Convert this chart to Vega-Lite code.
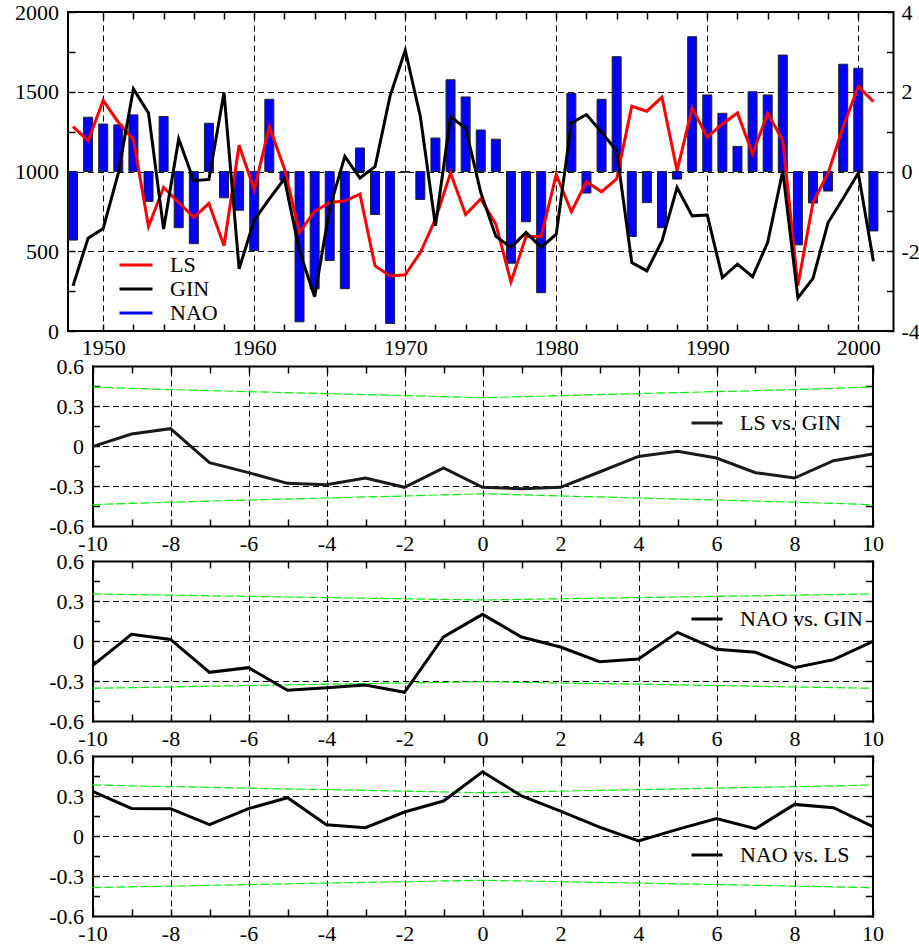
{
  "$schema": "https://vega.github.io/schema/vega-lite/v6.json",
  "background": "white",
  "padding": {"left": 13, "top": 0, "right": 5, "bottom": 2},
  "spacing": 35,
  "bounds": "flush",
  "config": {
    "font": "Liberation Serif",
    "axis": {"ticks": true, "tickOpacity": 1, "labelFont": "Liberation Serif", "labelFontSize": 22, "labelColor": "#000000", "tickColor": "#000000", "tickWidth": 1.5, "domainColor": "#000000", "domainWidth": 2, "domainCap": "square", "gridColor": "#000000", "gridDash": [6, 4], "gridWidth": 1, "labelFlush": false, "labelOverlap": false, "title": null},
    "legend": {"labelFont": "Liberation Serif", "labelFontSize": 22, "labelColor": "#000000", "padding": 0, "symbolType": "stroke", "symbolStrokeWidth": 3, "labelOffset": 16, "title": null}
  },
  "resolve": {"scale": {"color": "independent"}, "legend": {"color": "independent"}},
  "datasets": {
    "series": [
      {"year": 1948, "LS": 1281, "GIN": 283, "NAO": -1.72},
      {"year": 1949, "LS": 1193, "GIN": 582, "NAO": 1.36},
      {"year": 1950, "LS": 1445, "GIN": 643, "NAO": 1.19},
      {"year": 1951, "LS": 1309, "GIN": 990, "NAO": 1.17},
      {"year": 1952, "LS": 1200, "GIN": 1518, "NAO": 1.42},
      {"year": 1953, "LS": 655, "GIN": 1367, "NAO": -0.75},
      {"year": 1954, "LS": 900, "GIN": 639, "NAO": 1.38},
      {"year": 1955, "LS": 806, "GIN": 1204, "NAO": -1.41},
      {"year": 1956, "LS": 712, "GIN": 942, "NAO": -1.81},
      {"year": 1957, "LS": 800, "GIN": 950, "NAO": 1.21},
      {"year": 1958, "LS": 535, "GIN": 1495, "NAO": -0.66},
      {"year": 1959, "LS": 1165, "GIN": 390, "NAO": -0.97},
      {"year": 1960, "LS": 885, "GIN": 695, "NAO": -1.98},
      {"year": 1961, "LS": 1280, "GIN": 828, "NAO": 1.81},
      {"year": 1962, "LS": 1017, "GIN": 954, "NAO": -0.22},
      {"year": 1963, "LS": 619, "GIN": 500, "NAO": -3.77},
      {"year": 1964, "LS": 750, "GIN": 215, "NAO": -2.94},
      {"year": 1965, "LS": 806, "GIN": 770, "NAO": -2.23},
      {"year": 1966, "LS": 815, "GIN": 1095, "NAO": -2.94},
      {"year": 1967, "LS": 858, "GIN": 959, "NAO": 0.59},
      {"year": 1968, "LS": 408, "GIN": 1030, "NAO": -1.08},
      {"year": 1969, "LS": 345, "GIN": 1475, "NAO": -3.81},
      {"year": 1970, "LS": 352, "GIN": 1760, "NAO": -0.02},
      {"year": 1971, "LS": 492, "GIN": 1345, "NAO": -0.70},
      {"year": 1972, "LS": 701, "GIN": 660, "NAO": 0.84},
      {"year": 1973, "LS": 990, "GIN": 1345, "NAO": 2.30},
      {"year": 1974, "LS": 730, "GIN": 1270, "NAO": 1.87},
      {"year": 1975, "LS": 828, "GIN": 869, "NAO": 1.04},
      {"year": 1976, "LS": 670, "GIN": 593, "NAO": 0.81},
      {"year": 1977, "LS": 308, "GIN": 524, "NAO": -2.30},
      {"year": 1978, "LS": 593, "GIN": 618, "NAO": -1.26},
      {"year": 1979, "LS": 593, "GIN": 524, "NAO": -3.04},
      {"year": 1980, "LS": 980, "GIN": 607, "NAO": 0.0},
      {"year": 1981, "LS": 748, "GIN": 1305, "NAO": 1.96},
      {"year": 1982, "LS": 936, "GIN": 1357, "NAO": -0.54},
      {"year": 1983, "LS": 873, "GIN": 1246, "NAO": 1.81},
      {"year": 1984, "LS": 953, "GIN": 1130, "NAO": 2.88},
      {"year": 1985, "LS": 1409, "GIN": 429, "NAO": -1.63},
      {"year": 1986, "LS": 1378, "GIN": 377, "NAO": -0.78},
      {"year": 1987, "LS": 1466, "GIN": 565, "NAO": -1.41},
      {"year": 1988, "LS": 1005, "GIN": 900, "NAO": -0.19},
      {"year": 1989, "LS": 1397, "GIN": 722, "NAO": 3.38},
      {"year": 1990, "LS": 1215, "GIN": 727, "NAO": 1.92},
      {"year": 1991, "LS": 1298, "GIN": 335, "NAO": 1.46},
      {"year": 1992, "LS": 1367, "GIN": 419, "NAO": 0.63},
      {"year": 1993, "LS": 1110, "GIN": 340, "NAO": 2.00},
      {"year": 1994, "LS": 1365, "GIN": 556, "NAO": 1.92},
      {"year": 1995, "LS": 1195, "GIN": 1003, "NAO": 2.92},
      {"year": 1996, "LS": 285, "GIN": 207, "NAO": -1.84},
      {"year": 1997, "LS": 805, "GIN": 330, "NAO": -0.79},
      {"year": 1998, "LS": 990, "GIN": 680, "NAO": -0.49},
      {"year": 1999, "LS": 1280, "GIN": 832, "NAO": 2.69},
      {"year": 2000, "LS": 1533, "GIN": 990, "NAO": 2.59},
      {"year": 2001, "LS": 1438, "GIN": 438, "NAO": -1.49}
    ],
    "lsgin": [
      {"lag": -10, "r": -0.005, "up": 0.443, "lo": -0.44},
      {"lag": -9, "r": 0.09, "up": 0.432, "lo": -0.43},
      {"lag": -8, "r": 0.13, "up": 0.423, "lo": -0.422},
      {"lag": -7, "r": -0.125, "up": 0.415, "lo": -0.413},
      {"lag": -6, "r": -0.2, "up": 0.408, "lo": -0.405},
      {"lag": -5, "r": -0.28, "up": 0.40, "lo": -0.398},
      {"lag": -4, "r": -0.29, "up": 0.393, "lo": -0.39},
      {"lag": -3, "r": -0.24, "up": 0.386, "lo": -0.382},
      {"lag": -2, "r": -0.31, "up": 0.378, "lo": -0.375},
      {"lag": -1, "r": -0.165, "up": 0.37, "lo": -0.366},
      {"lag": 0, "r": -0.31, "up": 0.362, "lo": -0.358},
      {"lag": 1, "r": -0.32, "up": 0.37, "lo": -0.366},
      {"lag": 2, "r": -0.31, "up": 0.378, "lo": -0.375},
      {"lag": 3, "r": -0.195, "up": 0.386, "lo": -0.382},
      {"lag": 4, "r": -0.078, "up": 0.393, "lo": -0.39},
      {"lag": 5, "r": -0.04, "up": 0.40, "lo": -0.398},
      {"lag": 6, "r": -0.09, "up": 0.408, "lo": -0.405},
      {"lag": 7, "r": -0.2, "up": 0.415, "lo": -0.413},
      {"lag": 8, "r": -0.24, "up": 0.423, "lo": -0.422},
      {"lag": 9, "r": -0.11, "up": 0.432, "lo": -0.43},
      {"lag": 10, "r": -0.06, "up": 0.443, "lo": -0.44}
    ],
    "naogin": [
      {"lag": -10, "r": -0.185, "up": 0.353, "lo": -0.354},
      {"lag": -9, "r": 0.05, "up": 0.348, "lo": -0.35},
      {"lag": -8, "r": 0.012, "up": 0.344, "lo": -0.345},
      {"lag": -7, "r": -0.235, "up": 0.339, "lo": -0.339},
      {"lag": -6, "r": -0.2, "up": 0.335, "lo": -0.334},
      {"lag": -5, "r": -0.37, "up": 0.33, "lo": -0.329},
      {"lag": -4, "r": -0.35, "up": 0.326, "lo": -0.324},
      {"lag": -3, "r": -0.33, "up": 0.321, "lo": -0.319},
      {"lag": -2, "r": -0.385, "up": 0.317, "lo": -0.315},
      {"lag": -1, "r": 0.03, "up": 0.312, "lo": -0.31},
      {"lag": 0, "r": 0.2, "up": 0.308, "lo": -0.305},
      {"lag": 1, "r": 0.03, "up": 0.312, "lo": -0.31},
      {"lag": 2, "r": -0.045, "up": 0.317, "lo": -0.315},
      {"lag": 3, "r": -0.155, "up": 0.321, "lo": -0.319},
      {"lag": 4, "r": -0.135, "up": 0.326, "lo": -0.324},
      {"lag": 5, "r": 0.065, "up": 0.33, "lo": -0.329},
      {"lag": 6, "r": -0.062, "up": 0.335, "lo": -0.334},
      {"lag": 7, "r": -0.085, "up": 0.339, "lo": -0.339},
      {"lag": 8, "r": -0.2, "up": 0.344, "lo": -0.345},
      {"lag": 9, "r": -0.14, "up": 0.348, "lo": -0.35},
      {"lag": 10, "r": -0.005, "up": 0.353, "lo": -0.354}
    ],
    "naols": [
      {"lag": -10, "r": 0.335, "up": 0.383, "lo": -0.387},
      {"lag": -9, "r": 0.207, "up": 0.376, "lo": -0.381},
      {"lag": -8, "r": 0.205, "up": 0.37, "lo": -0.376},
      {"lag": -7, "r": 0.085, "up": 0.365, "lo": -0.37},
      {"lag": -6, "r": 0.205, "up": 0.359, "lo": -0.364},
      {"lag": -5, "r": 0.287, "up": 0.353, "lo": -0.359},
      {"lag": -4, "r": 0.085, "up": 0.348, "lo": -0.353},
      {"lag": -3, "r": 0.062, "up": 0.342, "lo": -0.348},
      {"lag": -2, "r": 0.18, "up": 0.336, "lo": -0.343},
      {"lag": -1, "r": 0.262, "up": 0.331, "lo": -0.337},
      {"lag": 0, "r": 0.482, "up": 0.325, "lo": -0.332},
      {"lag": 1, "r": 0.30, "up": 0.331, "lo": -0.337},
      {"lag": 2, "r": 0.187, "up": 0.336, "lo": -0.343},
      {"lag": 3, "r": 0.067, "up": 0.342, "lo": -0.348},
      {"lag": 4, "r": -0.037, "up": 0.348, "lo": -0.353},
      {"lag": 5, "r": 0.05, "up": 0.353, "lo": -0.359},
      {"lag": 6, "r": 0.13, "up": 0.359, "lo": -0.364},
      {"lag": 7, "r": 0.055, "up": 0.365, "lo": -0.37},
      {"lag": 8, "r": 0.237, "up": 0.37, "lo": -0.376},
      {"lag": 9, "r": 0.212, "up": 0.376, "lo": -0.381},
      {"lag": 10, "r": 0.072, "up": 0.383, "lo": -0.387}
    ]
  },
  "vconcat": [
    {
      "width": 825.5,
      "height": 319,
      "view": {"stroke": "#000000", "strokeWidth": 2},
      "data": {"name": "series"},
      "resolve": {"scale": {"y": "independent"}, "axis": {"x": "independent"}},
      "layer": [
        {
          "mark": {"type": "bar", "color": "#0000ff", "stroke": "#222222", "strokeWidth": 1, "size": 9, "clip": true},
          "encoding": {
            "x": {"field": "year", "type": "quantitative", "scale": {"domain": [1948, 2002], "nice": false, "zero": false},
              "axis": {"orient": "top", "offset": -319, "values": [1950, 1952, 1954, 1956, 1958, 1960, 1962, 1964, 1966, 1968, 1970, 1972, 1974, 1976, 1978, 1980, 1982, 1984, 1986, 1988, 1990, 1992, 1994, 1996, 1998, 2000], "format": "d", "labelExpr": "datum.value % 10 === 0 ? datum.label : ''", "labelBaseline": "top", "labelPadding": -13, "grid": true, "gridOpacity": {"condition": {"test": "datum.value % 10 === 0", "value": 1}, "value": 0}, "ticks": true, "tickSize": 7, "tickColor": {"condition": {"test": "isValid(datum.value)", "value": "#000000"}, "value": "#000000"}, "tickWidth": {"condition": {"test": "isValid(datum.value)", "value": 1.5}, "value": 1.5}, "tickOpacity": {"condition": {"test": "isValid(datum.value)", "value": 1}, "value": 1}, "domain": false, "title": null}},
            "y": {"field": "NAO", "type": "quantitative", "scale": {"domain": [-4, 4], "nice": false},
              "axis": {"orient": "left", "offset": -825.5, "values": [-4, -3, -2, -1, 0, 1, 2, 3, 4], "labelExpr": "datum.value % 2 === 0 ? (datum.value < 0 ? '-' : '') + abs(datum.value) : ''", "labelAlign": "left", "labelPadding": -14.5, "grid": false, "ticks": true, "tickSize": 7, "tickColor": {"condition": {"test": "isValid(datum.value)", "value": "#000000"}, "value": "#000000"}, "tickWidth": {"condition": {"test": "isValid(datum.value)", "value": 1.5}, "value": 1.5}, "tickOpacity": {"condition": {"test": "isValid(datum.value)", "value": 1}, "value": 1}, "domain": false, "title": null}}
          }
        },
        {
          "mark": {"type": "line", "strokeWidth": 3, "clip": true},
          "encoding": {
            "x": {"field": "year", "type": "quantitative",
              "axis": {"orient": "bottom", "offset": -319, "values": [1950, 1952, 1954, 1956, 1958, 1960, 1962, 1964, 1966, 1968, 1970, 1972, 1974, 1976, 1978, 1980, 1982, 1984, 1986, 1988, 1990, 1992, 1994, 1996, 1998, 2000], "labels": false, "grid": false, "ticks": true, "tickSize": 7, "tickColor": {"condition": {"test": "isValid(datum.value)", "value": "#000000"}, "value": "#000000"}, "tickWidth": {"condition": {"test": "isValid(datum.value)", "value": 1.5}, "value": 1.5}, "tickOpacity": {"condition": {"test": "isValid(datum.value)", "value": 1}, "value": 1}, "domain": false, "title": null}},
            "y": {"field": "LS", "type": "quantitative", "scale": {"domain": [0, 2000], "nice": false},
              "axis": {"orient": "right", "offset": -825.5, "values": [0, 250, 500, 750, 1000, 1250, 1500, 1750, 2000], "format": "d", "labelExpr": "datum.value % 500 === 0 ? datum.label : ''", "labelAlign": "right", "labelPadding": -16.5, "grid": true, "gridOpacity": {"condition": {"test": "datum.value % 500 === 0", "value": 1}, "value": 0}, "ticks": true, "tickSize": 7, "tickColor": {"condition": {"test": "isValid(datum.value)", "value": "#000000"}, "value": "#000000"}, "tickWidth": {"condition": {"test": "isValid(datum.value)", "value": 1.5}, "value": 1.5}, "tickOpacity": {"condition": {"test": "isValid(datum.value)", "value": 1}, "value": 1}, "domain": false, "title": null}},
            "color": {"datum": "LS", "type": "nominal", "scale": {"domain": ["LS", "GIN", "NAO"], "range": ["#ff0000", "#000000", "#0000ff"]},
              "legend": {"orient": "none", "legendX": 50, "legendY": 241, "symbolSize": 1089, "rowPadding": 0, "clipHeight": 24, "labelFontSize": 22}}
          }
        },
        {
          "mark": {"type": "line", "strokeWidth": 3, "clip": true},
          "encoding": {
            "x": {"field": "year", "type": "quantitative", "axis": null},
            "y": {"field": "GIN", "type": "quantitative", "scale": {"domain": [0, 2000], "nice": false}, "axis": null},
            "color": {"datum": "GIN", "type": "nominal"}
          }
        }
      ]
    },
    {
      "width": 804.5,
      "height": 160,
      "view": {"stroke": null},
      "data": {"name": "lsgin"},
      "resolve": {"axis": {"x": "independent", "y": "independent"}},
      "layer": [
        {
          "mark": {"type": "line", "color": "#00ee00", "strokeWidth": 1.2, "strokeDash": [9, 3]},
          "encoding": {
            "x": {"field": "lag", "type": "quantitative", "scale": {"domain": [-10, 10], "range": [24.5, 804.5], "nice": false, "zero": false},
              "axis": {"orient": "bottom", "offset": -160, "values": [-10, -9, -8, -7, -6, -5, -4, -3, -2, -1, 0, 1, 2, 3, 4, 5, 6, 7, 8, 9, 10], "labels": false, "grid": false, "ticks": true, "tickSize": 7, "tickColor": {"condition": {"test": "isValid(datum.value)", "value": "#000000"}, "value": "#000000"}, "tickWidth": {"condition": {"test": "isValid(datum.value)", "value": 1.5}, "value": 1.5}, "tickOpacity": {"condition": {"test": "isValid(datum.value)", "value": 1}, "value": 1}, "domain": true, "title": null}},
            "y": {"field": "up", "type": "quantitative", "scale": {"domain": [-0.6, 0.6], "nice": false, "zero": false},
              "axis": {"orient": "left", "offset": -804.5, "values": [-0.6, -0.45, -0.3, -0.15, 0, 0.15, 0.3, 0.45, 0.6], "labels": false, "grid": false, "ticks": true, "tickSize": 7, "tickColor": {"condition": {"test": "isValid(datum.value)", "value": "#000000"}, "value": "#000000"}, "tickWidth": {"condition": {"test": "isValid(datum.value)", "value": 1.5}, "value": 1.5}, "tickOpacity": {"condition": {"test": "isValid(datum.value)", "value": 1}, "value": 1}, "domain": true, "title": null}}
          }
        },
        {
          "mark": {"type": "line", "color": "#00ee00", "strokeWidth": 1.2, "strokeDash": [9, 3]},
          "encoding": {
            "x": {"field": "lag", "type": "quantitative", "axis": null},
            "y": {"field": "lo", "type": "quantitative",
              "axis": {"orient": "right", "offset": -780, "values": [-0.45, -0.3, -0.15, 0, 0.15, 0.3, 0.45], "labels": false, "grid": false, "ticks": true, "tickSize": 7, "tickColor": {"condition": {"test": "isValid(datum.value)", "value": "#000000"}, "value": "#000000"}, "tickWidth": {"condition": {"test": "isValid(datum.value)", "value": 1.5}, "value": 1.5}, "tickOpacity": {"condition": {"test": "isValid(datum.value)", "value": 1}, "value": 1}, "domain": false, "title": null}}
          }
        },
        {
          "mark": {"type": "line", "strokeWidth": 3},
          "encoding": {
            "x": {"field": "lag", "type": "quantitative",
              "axis": {"orient": "top", "offset": -160, "values": [-10, -9, -8, -7, -6, -5, -4, -3, -2, -1, 0, 1, 2, 3, 4, 5, 6, 7, 8, 9, 10], "labelExpr": "datum.value % 2 === 0 ? (datum.value < 0 ? '-' : '') + abs(datum.value) : ''", "labelBaseline": "top", "labelPadding": -14, "grid": true, "gridOpacity": {"condition": {"test": "datum.value % 2 === 0 && abs(datum.value) < 10", "value": 1}, "value": 0}, "ticks": true, "tickSize": 7, "tickColor": {"condition": {"test": "isValid(datum.value)", "value": "#000000"}, "value": "#000000"}, "tickWidth": {"condition": {"test": "isValid(datum.value)", "value": 1.5}, "value": 1.5}, "tickOpacity": {"condition": {"test": "isValid(datum.value)", "value": 1}, "value": 1}, "domain": true, "title": null}},
            "y": {"field": "r", "type": "quantitative",
              "axis": {"orient": "left", "offset": -24.5, "values": [-0.6, -0.3, 0, 0.3, 0.6], "labelExpr": "(datum.value < 0 ? '-' : '') + format(abs(datum.value), '.1~f')", "labelPadding": 9, "grid": true, "gridOpacity": {"condition": {"test": "abs(datum.value) < 0.5", "value": 1}, "value": 0}, "ticks": false, "domain": true, "title": null}},
            "color": {"datum": "LS vs. GIN", "scale": {"range": ["#1a1a1a"]},
              "legend": {"orient": "none", "legendX": 622, "legendY": 40, "symbolSize": 961}}
          }
        }
      ]
    },
    {
      "width": 804.5,
      "height": 160,
      "view": {"stroke": null},
      "data": {"name": "naogin"},
      "resolve": {"axis": {"x": "independent", "y": "independent"}},
      "layer": [
        {
          "mark": {"type": "line", "color": "#00ee00", "strokeWidth": 1.2, "strokeDash": [9, 3]},
          "encoding": {
            "x": {"field": "lag", "type": "quantitative", "scale": {"domain": [-10, 10], "range": [24.5, 804.5], "nice": false, "zero": false},
              "axis": {"orient": "bottom", "offset": -160, "values": [-10, -9, -8, -7, -6, -5, -4, -3, -2, -1, 0, 1, 2, 3, 4, 5, 6, 7, 8, 9, 10], "labels": false, "grid": false, "ticks": true, "tickSize": 7, "tickColor": {"condition": {"test": "isValid(datum.value)", "value": "#000000"}, "value": "#000000"}, "tickWidth": {"condition": {"test": "isValid(datum.value)", "value": 1.5}, "value": 1.5}, "tickOpacity": {"condition": {"test": "isValid(datum.value)", "value": 1}, "value": 1}, "domain": true, "title": null}},
            "y": {"field": "up", "type": "quantitative", "scale": {"domain": [-0.6, 0.6], "nice": false, "zero": false},
              "axis": {"orient": "left", "offset": -804.5, "values": [-0.6, -0.45, -0.3, -0.15, 0, 0.15, 0.3, 0.45, 0.6], "labels": false, "grid": false, "ticks": true, "tickSize": 7, "tickColor": {"condition": {"test": "isValid(datum.value)", "value": "#000000"}, "value": "#000000"}, "tickWidth": {"condition": {"test": "isValid(datum.value)", "value": 1.5}, "value": 1.5}, "tickOpacity": {"condition": {"test": "isValid(datum.value)", "value": 1}, "value": 1}, "domain": true, "title": null}}
          }
        },
        {
          "mark": {"type": "line", "color": "#00ee00", "strokeWidth": 1.2, "strokeDash": [9, 3]},
          "encoding": {
            "x": {"field": "lag", "type": "quantitative", "axis": null},
            "y": {"field": "lo", "type": "quantitative",
              "axis": {"orient": "right", "offset": -780, "values": [-0.45, -0.3, -0.15, 0, 0.15, 0.3, 0.45], "labels": false, "grid": false, "ticks": true, "tickSize": 7, "tickColor": {"condition": {"test": "isValid(datum.value)", "value": "#000000"}, "value": "#000000"}, "tickWidth": {"condition": {"test": "isValid(datum.value)", "value": 1.5}, "value": 1.5}, "tickOpacity": {"condition": {"test": "isValid(datum.value)", "value": 1}, "value": 1}, "domain": false, "title": null}}
          }
        },
        {
          "mark": {"type": "line", "strokeWidth": 3},
          "encoding": {
            "x": {"field": "lag", "type": "quantitative",
              "axis": {"orient": "top", "offset": -160, "values": [-10, -9, -8, -7, -6, -5, -4, -3, -2, -1, 0, 1, 2, 3, 4, 5, 6, 7, 8, 9, 10], "labelExpr": "datum.value % 2 === 0 ? (datum.value < 0 ? '-' : '') + abs(datum.value) : ''", "labelBaseline": "top", "labelPadding": -14, "grid": true, "gridOpacity": {"condition": {"test": "datum.value % 2 === 0 && abs(datum.value) < 10", "value": 1}, "value": 0}, "ticks": true, "tickSize": 7, "tickColor": {"condition": {"test": "isValid(datum.value)", "value": "#000000"}, "value": "#000000"}, "tickWidth": {"condition": {"test": "isValid(datum.value)", "value": 1.5}, "value": 1.5}, "tickOpacity": {"condition": {"test": "isValid(datum.value)", "value": 1}, "value": 1}, "domain": true, "title": null}},
            "y": {"field": "r", "type": "quantitative",
              "axis": {"orient": "left", "offset": -24.5, "values": [-0.6, -0.3, 0, 0.3, 0.6], "labelExpr": "(datum.value < 0 ? '-' : '') + format(abs(datum.value), '.1~f')", "labelPadding": 9, "grid": true, "gridOpacity": {"condition": {"test": "abs(datum.value) < 0.5", "value": 1}, "value": 0}, "ticks": false, "domain": true, "title": null}},
            "color": {"datum": "NAO vs. GIN", "scale": {"range": ["#000000"]},
              "legend": {"orient": "none", "legendX": 622, "legendY": 41, "symbolSize": 961}}
          }
        }
      ]
    },
    {
      "width": 804.5,
      "height": 160,
      "view": {"stroke": null},
      "data": {"name": "naols"},
      "resolve": {"axis": {"x": "independent", "y": "independent"}},
      "layer": [
        {
          "mark": {"type": "line", "color": "#00ee00", "strokeWidth": 1.2, "strokeDash": [9, 3]},
          "encoding": {
            "x": {"field": "lag", "type": "quantitative", "scale": {"domain": [-10, 10], "range": [24.5, 804.5], "nice": false, "zero": false},
              "axis": {"orient": "bottom", "offset": -160, "values": [-10, -9, -8, -7, -6, -5, -4, -3, -2, -1, 0, 1, 2, 3, 4, 5, 6, 7, 8, 9, 10], "labels": false, "grid": false, "ticks": true, "tickSize": 7, "tickColor": {"condition": {"test": "isValid(datum.value)", "value": "#000000"}, "value": "#000000"}, "tickWidth": {"condition": {"test": "isValid(datum.value)", "value": 1.5}, "value": 1.5}, "tickOpacity": {"condition": {"test": "isValid(datum.value)", "value": 1}, "value": 1}, "domain": true, "title": null}},
            "y": {"field": "up", "type": "quantitative", "scale": {"domain": [-0.6, 0.6], "nice": false, "zero": false},
              "axis": {"orient": "left", "offset": -804.5, "values": [-0.6, -0.45, -0.3, -0.15, 0, 0.15, 0.3, 0.45, 0.6], "labels": false, "grid": false, "ticks": true, "tickSize": 7, "tickColor": {"condition": {"test": "isValid(datum.value)", "value": "#000000"}, "value": "#000000"}, "tickWidth": {"condition": {"test": "isValid(datum.value)", "value": 1.5}, "value": 1.5}, "tickOpacity": {"condition": {"test": "isValid(datum.value)", "value": 1}, "value": 1}, "domain": true, "title": null}}
          }
        },
        {
          "mark": {"type": "line", "color": "#00ee00", "strokeWidth": 1.2, "strokeDash": [9, 3]},
          "encoding": {
            "x": {"field": "lag", "type": "quantitative", "axis": null},
            "y": {"field": "lo", "type": "quantitative",
              "axis": {"orient": "right", "offset": -780, "values": [-0.45, -0.3, -0.15, 0, 0.15, 0.3, 0.45], "labels": false, "grid": false, "ticks": true, "tickSize": 7, "tickColor": {"condition": {"test": "isValid(datum.value)", "value": "#000000"}, "value": "#000000"}, "tickWidth": {"condition": {"test": "isValid(datum.value)", "value": 1.5}, "value": 1.5}, "tickOpacity": {"condition": {"test": "isValid(datum.value)", "value": 1}, "value": 1}, "domain": false, "title": null}}
          }
        },
        {
          "mark": {"type": "line", "strokeWidth": 3},
          "encoding": {
            "x": {"field": "lag", "type": "quantitative",
              "axis": {"orient": "top", "offset": -160, "values": [-10, -9, -8, -7, -6, -5, -4, -3, -2, -1, 0, 1, 2, 3, 4, 5, 6, 7, 8, 9, 10], "labelExpr": "datum.value % 2 === 0 ? (datum.value < 0 ? '-' : '') + abs(datum.value) : ''", "labelBaseline": "top", "labelPadding": -14, "grid": true, "gridOpacity": {"condition": {"test": "datum.value % 2 === 0 && abs(datum.value) < 10", "value": 1}, "value": 0}, "ticks": true, "tickSize": 7, "tickColor": {"condition": {"test": "isValid(datum.value)", "value": "#000000"}, "value": "#000000"}, "tickWidth": {"condition": {"test": "isValid(datum.value)", "value": 1.5}, "value": 1.5}, "tickOpacity": {"condition": {"test": "isValid(datum.value)", "value": 1}, "value": 1}, "domain": true, "title": null}},
            "y": {"field": "r", "type": "quantitative",
              "axis": {"orient": "left", "offset": -24.5, "values": [-0.6, -0.3, 0, 0.3, 0.6], "labelExpr": "(datum.value < 0 ? '-' : '') + format(abs(datum.value), '.1~f')", "labelPadding": 9, "grid": true, "gridOpacity": {"condition": {"test": "abs(datum.value) < 0.5", "value": 1}, "value": 0}, "ticks": false, "domain": true, "title": null}},
            "color": {"datum": "NAO vs. LS", "scale": {"range": ["#000000"]},
              "legend": {"orient": "none", "legendX": 622, "legendY": 82, "symbolSize": 961}}
          }
        }
      ]
    }
  ]
}
